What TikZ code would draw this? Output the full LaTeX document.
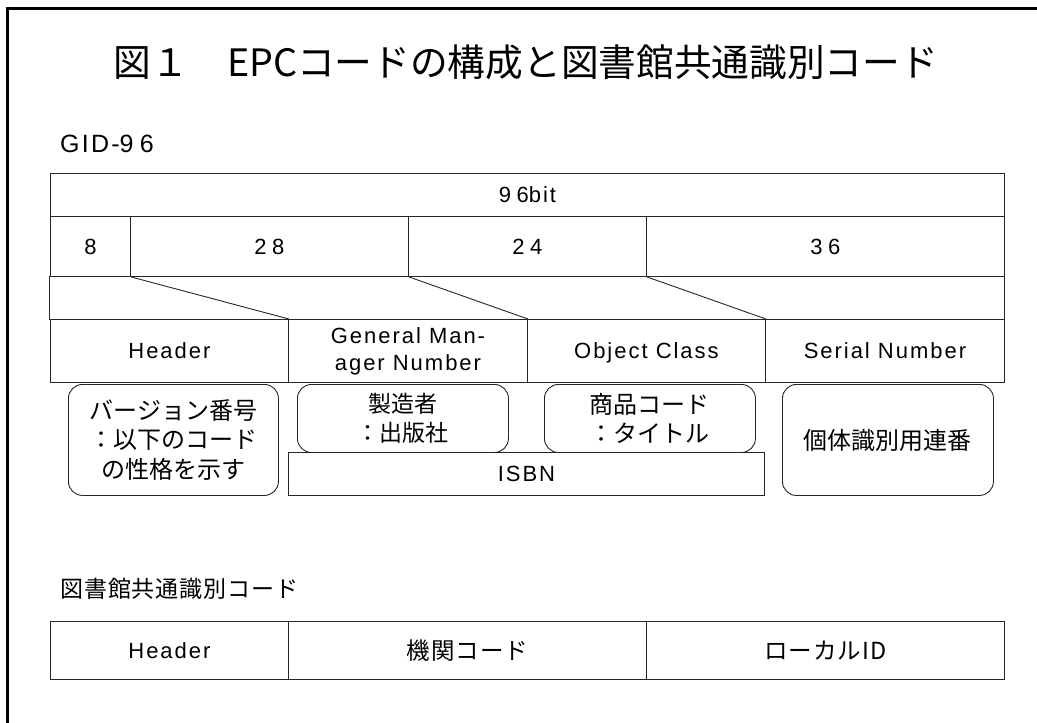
\documentclass[tikz,border=0pt]{standalone}
\usepackage{fontspec}
\setmainfont[LetterSpace=9]{Liberation Sans}
\newfontfamily\digs[LetterSpace=25]{Liberation Sans}
\newfontfamily\jp{Noto Sans CJK JP}
\newfontfamily\jps[LetterSpace=4]{Noto Sans CJK JP}
\begin{document}
\begin{tikzpicture}[x=1pt,y=-1pt,
  cellbase/.style={draw=black!85, line width=0.9pt, inner sep=0pt, anchor=north west, align=center,
    font=\fontsize{22}{27}\selectfont},
  cell/.style={cellbase, text height=17pt, text depth=1pt},
  rbox/.style={draw=black!85, line width=0.9pt, rounded corners=14pt, inner sep=0pt, anchor=north west,
    align=center, font=\jp\fontsize{24}{29.5}\selectfont},
  jpcell/.style={cell, font=\jps\fontsize{23.5}{27}\selectfont, text height=19pt, text depth=1pt},
  link/.style={draw=black!85, line width=0.9pt},
  frame/.style={line width=3pt, black}]
\useasboundingbox (0,0) rectangle (1037,723);
% frame
\coordinate (fb) at (7,723);
\coordinate (fc) at (7,8);
\coordinate (fr) at (1037,8);
\draw[frame] (fb) -- (fc) -- (fr);
% title
\node[anchor=base, inner sep=0pt, font=\jp\fontsize{37.7}{40}\selectfont] (title) at (526,76)
  {図１　EPCコードの構成と図書館共通識別コード};
\node[anchor=base west, inner sep=0pt, font=\fontsize{25}{28}\selectfont] (gid) at (60,152) {GID-{\digs 96}};
% row 1
\node[cell, minimum width=954, minimum height=43] (r96) at (50,173) {{\digs 96}bit};
% row 2
\node[cell, minimum width=80, minimum height=60] (c8) at (50,216) {\digs 8};
\node[cell, minimum width=278, minimum height=60] (c28) at (130,216) {\digs 28};
\node[cell, minimum width=238, minimum height=60] (c24) at (408,216) {\digs 24};
\node[cell, minimum width=358, minimum height=60] (c36) at (646,216) {\digs 36};
% row 3
\node[cell, minimum width=955, minimum height=43] (gap) at (49,276) {};
% row 4
\node[cell, minimum width=238, minimum height=63] (hd) at (50,319) {Header};
\node[cellbase, minimum width=239, minimum height=63] (gm) at (288,319) {General Man-\\ager Number};
\node[cell, minimum width=238, minimum height=63] (oc) at (527,319) {Object Class};
\node[cell, minimum width=239, minimum height=63] (sn) at (765,319) {Serial Number};
% diagonals
\draw[link] (c8.south east) -- (hd.north east);
\draw[link] (c28.south east) -- (gm.north east);
\draw[link] (c24.south east) -- (oc.north east);
% rounded boxes
\node[rbox, minimum width=210, minimum height=111] (ver) at (68,384) {バージョン番号\\：以下のコード\\の性格を示す};
\node[rbox, minimum width=211, minimum height=68, font=\jp\fontsize{23}{29}\selectfont] (mfr) at (297,384) {製造者\\：出版社};
\node[rbox, minimum width=211, minimum height=68] (prd) at (544,384) {商品コード\\：タイトル};
\node[rbox, minimum width=211, minimum height=111] (ser) at (782,384) {個体識別用連番};
\node[cell, minimum width=476, minimum height=43] (isbn) at (288,452) {ISBN};
% library code
\node[anchor=base west, inner sep=0pt, font=\jps\fontsize{23}{26}\selectfont] (lib) at (60,597) {図書館共通識別コード};
\node[cell, minimum width=238, minimum height=58] (lh) at (50,621) {Header};
\node[jpcell, minimum width=358, minimum height=58] (lk) at (288,621) {機関コード};
\node[jpcell, minimum width=358, minimum height=58] (ll) at (646,621) {ローカルID};
\end{tikzpicture}
\end{document}
